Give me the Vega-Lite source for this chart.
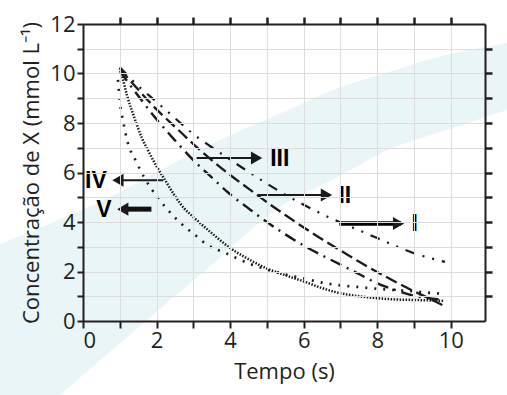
{
  "$schema": "https://vega.github.io/schema/vega-lite/v6.json",
  "width": 402,
  "height": 297,
  "autosize": "none",
  "padding": {"left": 83, "top": 24, "right": 22, "bottom": 74},
  "background": "white",
  "config": {"view": {"stroke": null}, "font": "Open Sans"},
  "datasets": {
    "band": [
      {"x": -2.26, "up": 3.1, "lo": -5.08},
      {"x": -0.63, "up": 4.1, "lo": -2.99},
      {"x": 0.33, "up": 4.72, "lo": -1.76},
      {"x": 2.37, "up": 6.29, "lo": 0.85},
      {"x": 3.32, "up": 7.03, "lo": 2.04},
      {"x": 5.44, "up": 8.43, "lo": 4.69},
      {"x": 6.8, "up": 9.33, "lo": 5.72},
      {"x": 8.62, "up": 10.2, "lo": 7.11},
      {"x": 9.16, "up": 10.46, "lo": 7.37},
      {"x": 11.53, "up": 11.23, "lo": 8.53}
    ],
    "curves": [
      {"s": "I", "t": 1, "c": 10.25}, {"s": "I", "t": 1.5, "c": 9.5}, {"s": "I", "t": 2, "c": 8.85}, {"s": "I", "t": 2.5, "c": 8.2}, {"s": "I", "t": 3, "c": 7.55}, {"s": "I", "t": 3.5, "c": 7.02}, {"s": "I", "t": 4, "c": 6.52}, {"s": "I", "t": 4.5, "c": 6.03}, {"s": "I", "t": 5, "c": 5.55}, {"s": "I", "t": 5.5, "c": 5.1}, {"s": "I", "t": 6, "c": 4.7}, {"s": "I", "t": 6.5, "c": 4.32}, {"s": "I", "t": 7, "c": 3.98}, {"s": "I", "t": 7.5, "c": 3.67}, {"s": "I", "t": 8, "c": 3.35}, {"s": "I", "t": 8.5, "c": 3.03}, {"s": "I", "t": 9, "c": 2.74}, {"s": "I", "t": 9.5, "c": 2.52}, {"s": "I", "t": 9.84, "c": 2.39},
      {"s": "II", "t": 1, "c": 10.2}, {"s": "II", "t": 1.5, "c": 9.35}, {"s": "II", "t": 2, "c": 8.55}, {"s": "II", "t": 2.5, "c": 7.85}, {"s": "II", "t": 3, "c": 7.15}, {"s": "II", "t": 3.5, "c": 6.5}, {"s": "II", "t": 4, "c": 5.9}, {"s": "II", "t": 4.5, "c": 5.35}, {"s": "II", "t": 5, "c": 4.8}, {"s": "II", "t": 5.5, "c": 4.28}, {"s": "II", "t": 6, "c": 3.78}, {"s": "II", "t": 6.5, "c": 3.3}, {"s": "II", "t": 7, "c": 2.85}, {"s": "II", "t": 7.5, "c": 2.4}, {"s": "II", "t": 8, "c": 1.98}, {"s": "II", "t": 8.5, "c": 1.58}, {"s": "II", "t": 9, "c": 1.2}, {"s": "II", "t": 9.5, "c": 0.85}, {"s": "II", "t": 9.8, "c": 0.62},
      {"s": "III", "t": 1, "c": 10.1}, {"s": "III", "t": 1.5, "c": 9.1}, {"s": "III", "t": 2, "c": 8.15}, {"s": "III", "t": 2.5, "c": 7.3}, {"s": "III", "t": 3, "c": 6.5}, {"s": "III", "t": 3.5, "c": 5.8}, {"s": "III", "t": 4, "c": 5.12}, {"s": "III", "t": 4.5, "c": 4.55}, {"s": "III", "t": 5, "c": 4.0}, {"s": "III", "t": 5.5, "c": 3.5}, {"s": "III", "t": 6, "c": 3.05}, {"s": "III", "t": 6.5, "c": 2.65}, {"s": "III", "t": 7, "c": 2.28}, {"s": "III", "t": 7.5, "c": 1.9}, {"s": "III", "t": 8, "c": 1.52}, {"s": "III", "t": 8.5, "c": 1.25}, {"s": "III", "t": 9, "c": 1.02}, {"s": "III", "t": 9.5, "c": 0.9}, {"s": "III", "t": 9.8, "c": 0.85},
      {"s": "IV", "t": 1.05, "c": 10.0}, {"s": "IV", "t": 1.2, "c": 9.1}, {"s": "IV", "t": 1.4, "c": 8.2}, {"s": "IV", "t": 1.6, "c": 7.4}, {"s": "IV", "t": 1.8, "c": 6.8}, {"s": "IV", "t": 2.0, "c": 6.25}, {"s": "IV", "t": 2.25, "c": 5.65}, {"s": "IV", "t": 2.5, "c": 5.05}, {"s": "IV", "t": 2.75, "c": 4.55}, {"s": "IV", "t": 3, "c": 4.2}, {"s": "IV", "t": 3.5, "c": 3.55}, {"s": "IV", "t": 4, "c": 2.95}, {"s": "IV", "t": 4.5, "c": 2.5}, {"s": "IV", "t": 5, "c": 2.12}, {"s": "IV", "t": 5.5, "c": 1.85}, {"s": "IV", "t": 6, "c": 1.6}, {"s": "IV", "t": 6.5, "c": 1.33}, {"s": "IV", "t": 7, "c": 1.12}, {"s": "IV", "t": 7.5, "c": 1.0}, {"s": "IV", "t": 8, "c": 0.92}, {"s": "IV", "t": 8.5, "c": 0.87}, {"s": "IV", "t": 9, "c": 0.85}, {"s": "IV", "t": 9.5, "c": 0.83}, {"s": "IV", "t": 9.8, "c": 0.82},
      {"s": "V", "t": 0.95, "c": 9.74}, {"s": "V", "t": 1.0, "c": 8.9}, {"s": "V", "t": 1.1, "c": 8.0}, {"s": "V", "t": 1.2, "c": 7.3}, {"s": "V", "t": 1.45, "c": 6.43}, {"s": "V", "t": 1.68, "c": 5.76}, {"s": "V", "t": 1.95, "c": 5.15}, {"s": "V", "t": 2.27, "c": 4.55}, {"s": "V", "t": 2.77, "c": 3.8}, {"s": "V", "t": 3.0, "c": 3.53}, {"s": "V", "t": 3.4, "c": 3.06}, {"s": "V", "t": 3.9, "c": 2.73}, {"s": "V", "t": 4.5, "c": 2.33}, {"s": "V", "t": 5, "c": 2.08}, {"s": "V", "t": 5.5, "c": 1.88}, {"s": "V", "t": 6, "c": 1.72}, {"s": "V", "t": 6.5, "c": 1.55}, {"s": "V", "t": 7, "c": 1.44}, {"s": "V", "t": 7.5, "c": 1.37}, {"s": "V", "t": 8, "c": 1.3}, {"s": "V", "t": 8.5, "c": 1.25}, {"s": "V", "t": 9, "c": 1.2}, {"s": "V", "t": 9.5, "c": 1.13}, {"s": "V", "t": 9.8, "c": 1.1}
    ],
    "arrows": [
      {"lab": "III", "x0": 3.09, "hx": 4.72, "y": 6.59, "lx": 5.35},
      {"lab": "II", "x0": 4.75, "hx": 6.62, "y": 5.09, "lx": 7.12},
      {"lab": "I", "x0": 7.03, "hx": 8.58, "y": 3.94, "lx": 9.02},
      {"lab": "IV", "x0": 2.18, "hx": 0.95, "y": 5.69, "lx": 0.35},
      {"lab": "V", "x0": 1.86, "hx": 1.08, "y": 4.52, "lx": 0.57}
    ]
  },
  "resolve": {"axis": {"x": "independent", "y": "independent"}},
  "layer": [
    {
      "data": {"name": "band"},
      "mark": {"type": "area", "clip": false, "color": "#e9f5f7", "interpolate": "monotone"},
      "encoding": {
        "x": {"field": "x", "type": "quantitative", "scale": {"domain": [0, 10.93], "nice": false, "zero": false},
          "axis": {"orient": "bottom", "values": [0,1,2,3,4,5,6,7,8,9,10], "labelExpr": "datum.value % 2 === 0 ? datum.label : ''",
            "tickSize": 7, "tickWidth": 2, "tickColor": "#231f20", "domainWidth": 2, "domainColor": "#231f20",
            "labelFontSize": 22, "labelColor": "#231f20", "labelPadding": 2, "labelFont": "Open Sans", "zindex": 1,
            "title": "Tempo (s)", "titleFontSize": 22, "titleFontWeight": "normal", "titleColor": "#231f20", "titleFont": "Open Sans", "titlePadding": 10}},
        "y": {"field": "up", "type": "quantitative", "scale": {"domain": [0, 12], "nice": false, "zero": false},
          "axis": {"orient": "left", "values": [0,1,2,3,4,5,6,7,8,9,10,11,12], "labelExpr": "datum.value % 2 === 0 ? datum.label : ''",
            "tickSize": 6, "tickWidth": 2, "tickColor": "#231f20", "domainWidth": 2, "domainColor": "#231f20",
            "labelFontSize": 22, "labelColor": "#231f20", "labelPadding": 2, "labelFont": "Open Sans", "zindex": 1,
            "title": "Concentração de X (mmol L⁻¹)", "titleFontSize": 22, "titleFontWeight": "normal", "titleColor": "#231f20", "titleFont": "Open Sans", "titlePadding": 6}},
        "y2": {"field": "lo"}
      }
    },
    {
      "data": {"name": "curves"},
      "mark": {"type": "line", "color": "#1a1a1a", "strokeCap": "butt", "interpolate": "monotone"},
      "encoding": {
        "x": {"field": "t", "type": "quantitative", "scale": {"domain": [0, 10.93], "nice": false, "zero": false},
          "axis": {"orient": "top", "values": [1,2,3,4,5,6,7,8,9,10], "labels": false, "tickSize": 7, "tickWidth": 2.5, "tickColor": "#231f20", "domainWidth": 2, "domainColor": "#231f20", "title": null, "zindex": 1}},
        "y": {"field": "c", "type": "quantitative", "scale": {"domain": [0, 12], "nice": false, "zero": false},
          "axis": {"orient": "right", "values": [1,2,3,4,5,6,7,8,9,10,11], "labels": false, "tickSize": 7, "tickWidth": 2.5, "tickColor": "#231f20", "domainWidth": 2, "domainColor": "#231f20", "title": null, "zindex": 1}},
        "detail": {"field": "s", "type": "nominal"},
        "strokeDash": {"field": "s", "type": "nominal", "legend": null,
          "scale": {"domain": ["I", "II", "III", "IV", "V"], "range": [[10, 8, 2, 8, 2, 8], [12, 5], [12, 6, 2, 6], [1.5, 1.5], [2, 7]]}},
        "strokeWidth": {"field": "s", "type": "nominal", "legend": null,
          "scale": {"domain": ["I", "II", "III", "IV", "V"], "range": [2.2, 2.6, 2.2, 1.6, 2.2]}}
      }
    },
    {
      "data": {"name": "arrows"},
      "transform": [{"filter": "datum.lab === 'II' || datum.lab === 'III' || datum.lab === 'IV'"}],
      "mark": {"type": "rule", "color": "#1a1a1a", "strokeWidth": 2},
      "encoding": {
        "x": {"field": "x0", "type": "quantitative", "scale": {"domain": [0, 10.93], "nice": false, "zero": false}, "axis": null},
        "x2": {"field": "hx"},
        "y": {"field": "y", "type": "quantitative", "scale": {"domain": [0, 12], "nice": false, "zero": false}, "axis": null}
      }
    },
    {
      "data": {"name": "arrows"},
      "transform": [{"filter": "datum.lab === 'V'"}],
      "mark": {"type": "rule", "color": "#111111", "strokeWidth": 5, "strokeCap": "butt"},
      "encoding": {
        "x": {"field": "x0", "type": "quantitative", "scale": {"domain": [0, 10.93], "nice": false, "zero": false}, "axis": null},
        "x2": {"field": "hx"},
        "y": {"field": "y", "type": "quantitative", "scale": {"domain": [0, 12], "nice": false, "zero": false}, "axis": null}
      }
    },
    {
      "data": {"name": "arrows"},
      "transform": [{"filter": "datum.lab === 'I'"}],
      "mark": {"type": "rule", "color": "#000000", "strokeWidth": 4.5, "strokeCap": "square"},
      "encoding": {
        "x": {"field": "x0", "type": "quantitative", "scale": {"domain": [0, 10.93], "nice": false, "zero": false}, "axis": null},
        "x2": {"field": "hx"},
        "y": {"field": "y", "type": "quantitative", "scale": {"domain": [0, 12], "nice": false, "zero": false}, "axis": null}
      }
    },
    {
      "data": {"name": "arrows"},
      "mark": {"type": "point", "filled": true, "color": "#1a1a1a", "opacity": 1, "size": 170},
      "encoding": {
        "x": {"field": "hx", "type": "quantitative", "scale": {"domain": [0, 10.93], "nice": false, "zero": false}, "axis": null},
        "y": {"field": "y", "type": "quantitative", "scale": {"domain": [0, 12], "nice": false, "zero": false}, "axis": null},
        "shape": {"field": "lab", "type": "nominal", "legend": null,
          "scale": {"domain": ["I", "II", "III", "IV", "V"], "range": ["triangle-right", "triangle-right", "triangle-right", "triangle-left", "triangle-left"]}}
      }
    },
    {
      "data": {"name": "arrows"},
      "mark": {"type": "text", "color": "#000000", "font": "Liberation Sans", "fontWeight": "bold", "fontSize": 23, "align": "center", "baseline": "middle", "dy": 1},
      "encoding": {
        "x": {"field": "lx", "type": "quantitative", "scale": {"domain": [0, 10.93], "nice": false, "zero": false}, "axis": null},
        "y": {"field": "y", "type": "quantitative", "scale": {"domain": [0, 12], "nice": false, "zero": false}, "axis": null},
        "text": {"field": "lab"}
      }
    }
  ]
}
